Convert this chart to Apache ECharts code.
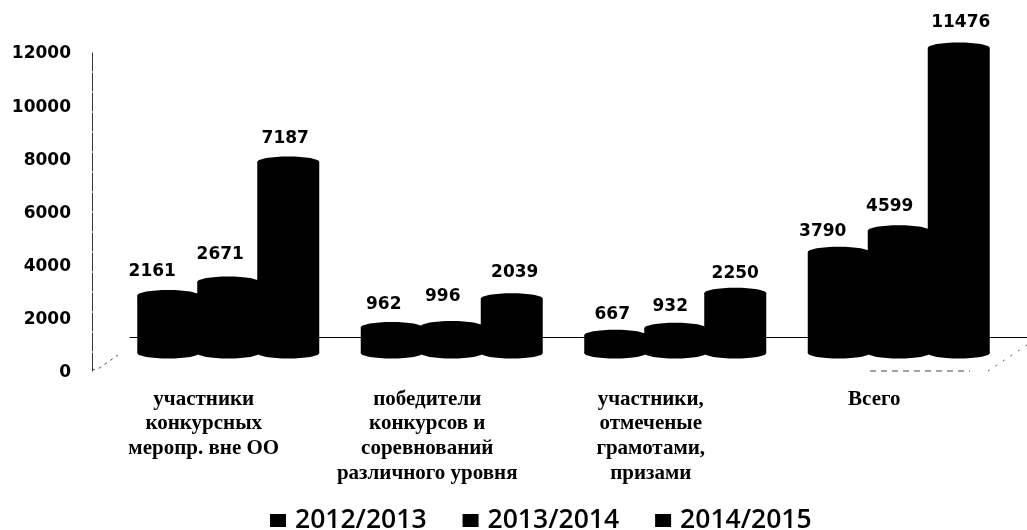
<!DOCTYPE html>
<html lang="ru">

<head>
    <meta charset="UTF-8">
    <title>Участники конкурсов</title>
    <style>
        body {
            overflow: hidden;
            margin: 0;
            background: #fff;
        }
    </style>
</head>

<body>
    <div id="chart" style="width:1027px;height:530px;"></div>
    <script src="https://cdn.jsdelivr.net/npm/echarts@6/dist/echarts.min.js"></script>
    <script>
        var categories = [
            'участники\nконкурсных\nмеропр. вне ОО',
            'победители\nконкурсов и\nсоревнований\nразличного уровня',
            'участники,\nотмеченые\nграмотами,\nпризами',
            'Всего'
        ];
        var years = ['2012/2013', '2013/2014', '2014/2015'];
        var values2012 = [2161, 962, 667, 3790];
        var values2013 = [2671, 996, 932, 4599];
        var values2014 = [7187, 2039, 2250, 11476];

        var myChart = echarts.init(document.getElementById('chart'));

        // every cylinder is a body and two caps, placed from the axis scales
        // labelShift holds the hand placed [dx, dy] of the value label, one per category
        function cylinder(slot, labelShift) {
            return function (params, api) {
                var band = api.coord([api.value(0), 0]);
                var top = api.coord([api.value(0), api.value(1)]);
                var w = 62, ry = 5.5;
                var cx = band[0] + 0.5 + slot * 60;
                var shift = labelShift[params.dataIndex];
                return {
                    type: 'group',
                    children: [
                        { type: 'rect', shape: { x: cx - w / 2, y: top[1], width: w, height: band[1] - top[1] }, style: { fill: '#000' } },
                        { type: 'ellipse', shape: { cx: cx, cy: top[1], rx: w / 2, ry: ry }, style: { fill: '#000' } },
                        { type: 'ellipse', shape: { cx: cx, cy: band[1], rx: w / 2, ry: ry }, style: { fill: '#000' } },
                        {
                            type: 'text',
                            style: {
                                x: cx + shift[0],
                                y: top[1] - ry - 19 + shift[1],
                                text: String(api.value(1)),
                                fill: '#000',
                                font: 'bold 17px "DejaVu Sans"',
                                align: 'center',
                                verticalAlign: 'middle'
                            }
                        }
                    ]
                };
            };
        }

        function makeSeries(name, values, slot, labelShift) {
            return {
                name: name,
                type: 'custom',
                xAxisIndex: 1,
                yAxisIndex: 1,
                z: 5,
                clip: false,
                itemStyle: { color: '#000' },
                encode: { x: 0, y: 1 },
                data: values.map(function (v, i) { return [i, v]; }),
                renderItem: cylinder(slot, labelShift)
            };
        }

        var option = {
            animation: false,
            backgroundColor: '#fff',
            legend: {
                selectedMode: false,
                left: 265,
                top: 502,
                icon: 'rect',
                itemWidth: 16,
                itemHeight: 13,
                itemGap: 36,
                textStyle: {
                    color: '#000',
                    fontFamily: 'Open Sans',
                    fontWeight: 600,
                    fontSize: 26.5,
                    padding: [0, 0, 0, 4]
                },
                data: years
            },
            grid: [
                // front plane: value axis and category labels
                { left: 92, top: 52, width: 894, height: 319 },
                // bars stand further back in the fake 3D box
                { left: 116, top: 34, width: 894, height: 319 },
                // back wall floor line
                { left: 130, right: 0, top: 299, height: 38 }
            ],
            xAxis: [
                {
                    type: 'category',
                    gridIndex: 0,
                    data: categories,
                    axisLine: { show: false },
                    axisTick: { show: false },
                    axisLabel: {
                        interval: 0,
                        margin: 16,
                        color: '#000',
                        fontFamily: 'Liberation Serif',
                        fontWeight: 'bold',
                        fontSize: 21,
                        lineHeight: 24.7
                    }
                },
                { type: 'category', gridIndex: 1, data: categories, show: false },
                {
                    type: 'category',
                    gridIndex: 2,
                    data: categories,
                    axisLine: { lineStyle: { color: '#000', width: 1 } },
                    axisTick: { show: false },
                    axisLabel: { show: false }
                }
            ],
            yAxis: [
                {
                    type: 'value',
                    gridIndex: 0,
                    min: 0,
                    max: 12000,
                    interval: 2000,
                    splitLine: { show: false },
                    axisTick: { show: false },
                    axisLine: { show: true, lineStyle: { color: '#333', width: 1, type: [18, 2] } },
                    axisLabel: {
                        margin: 21,
                        color: '#000',
                        fontFamily: 'DejaVu Sans',
                        fontWeight: 'bold',
                        fontSize: 17,
                        verticalAlign: 'top',
                        lineHeight: 4,
                        formatter: function (v) { return String(v); }
                    }
                },
                { type: 'value', gridIndex: 1, min: 0, max: 12000, show: false },
                { type: 'value', gridIndex: 2, show: false }
            ],
            series: [
                makeSeries(years[0], values2012, -1, [[-16, 1], [-8, 2], [-3, 4], [-16, 4]]),
                makeSeries(years[1], values2013, 0, [[-8, -3], [-9, -5], [-5, 3], [-9, 0]]),
                makeSeries(years[2], values2014, 1, [[-3, 1], [3, -2], [0, 5], [2, -1]])
            ],
            graphic: [
                { type: 'polyline', shape: { points: [[92, 370], [98, 369], [118, 355]] }, style: { stroke: '#555', lineWidth: 1, lineDash: [3, 4], fill: null } },
                { type: 'polyline', shape: { points: [[988, 371], [1027, 345]] }, style: { stroke: '#555', lineWidth: 1, lineDash: [2, 7], fill: null } },
                { type: 'line', shape: { x1: 870, y1: 371, x2: 970, y2: 371 }, style: { stroke: '#444', lineWidth: 1, lineDash: [6, 5] } }
            ]
        };

        myChart.setOption(option);
    </script>
</body>

</html>
